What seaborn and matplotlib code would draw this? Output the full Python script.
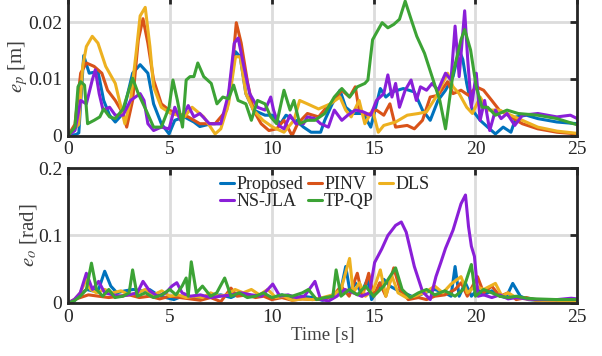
import numpy as np
import pandas as pd
import matplotlib
matplotlib.use("Agg")
import matplotlib.pyplot as plt
import seaborn as sns

# ------------------------------------------------------------------
# position error e_p [m]
t_p_proposed = [0, 0.4, 0.53, 0.77, 1.04, 1.47, 1.75, 2.04, 2.32, 2.7, 3.17, 3.54, 3.92, 4.2, 4.58, 4.96,
                5.24, 5.71, 6.18, 6.47, 7.03, 7.5, 7.88, 8.22, 8.45, 8.73, 9.1, 9.67, 10.05, 10.43, 10.7,
                11.18, 11.56, 11.93, 12.4, 12.6, 12.97, 13.35, 13.63, 14.0, 14.48, 14.86, 15.33, 15.6,
                15.9, 16.46, 17.0, 17.4, 17.78, 18.16, 18.53, 18.9, 19.2, 19.38, 19.57, 19.85, 20.23,
                20.6, 20.98, 21.36, 21.74, 22.0, 22.5, 23.06, 24.0, 25.0]
ep_proposed = [0, 0.0002, 0.0005, 0.0141, 0.011, 0.0113, 0.0062, 0.0036, 0.0024, 0.0039, 0.011, 0.0125,
               0.011, 0.0056, 0.0021, 0.0003, 0.0027, 0.0033, 0.0024, 0.0016, 0.0021, 0.0021, 0.0062,
               0.0148, 0.0139, 0.0074, 0.0045, 0.0036, 0.0036, 0.0021, 0.0036, 0.0027, 0.0015, 0.0006,
               0.0006, 0.0027, 0.0056, 0.008, 0.005, 0.0039, 0.0039, 0.0015, 0.0083, 0.0068, 0.0077,
               0.0083, 0.0077, 0.0045, 0.0027, 0.0062, 0.008, 0.0104, 0.0151, 0.0134, 0.0092, 0.0045,
               0.0027, 0.0015, 0.0003, 0.0015, 0.0006, 0.0033, 0.0036, 0.003, 0.0024, 0.0021]

t_p_pinv = [0, 0.34, 0.62, 0.9, 1.28, 1.66, 1.94, 2.32, 2.7, 2.88, 3.17, 3.45, 3.68, 3.92, 4.2, 4.58,
            4.96, 5.34, 5.9, 6.47, 7.22, 7.79, 8.07, 8.26, 8.5, 8.82, 9.1, 9.48, 9.86, 10.24, 10.6,
            11.0, 11.27, 11.75, 12.3, 12.69, 13.07, 13.44, 13.82, 14.1, 14.29, 14.67, 15.14, 15.5,
            15.8, 16.08, 16.65, 17.0, 17.4, 17.78, 18.16, 18.63, 18.9, 19.29, 19.66, 20.04, 20.4,
            20.8, 21.17, 21.74, 22.3, 23.06, 24.0, 25.0]
ep_pinv = [0, 0.002, 0.011, 0.0128, 0.0122, 0.011, 0.008, 0.0062, 0.0039, 0.0015, 0.0062, 0.0169,
           0.0206, 0.0163, 0.0098, 0.0056, 0.0045, 0.0039, 0.0033, 0.0021, 0.0021, 0.0045, 0.0122,
           0.0199, 0.0163, 0.0092, 0.0045, 0.0021, 0.0009, 0.0012, 0.0027, 0.0, 0.0021, 0.0039,
           0.0033, 0.005, 0.0062, 0.008, 0.0068, 0.0086, 0.0045, 0.0036, 0.0045, 0.0036, 0.0056,
           0.0015, 0.0018, 0.0012, 0.0027, 0.0068, 0.0071, 0.0095, 0.0074, 0.008, 0.0071, 0.0086,
           0.008, 0.0062, 0.0045, 0.0033, 0.0021, 0.0012, 0.0006, 0.0003]

t_p_dls = [0, 0.53, 0.72, 0.9, 1.19, 1.47, 1.85, 2.32, 2.6, 2.79, 3.07, 3.36, 3.54, 3.79, 4.02, 4.2,
           4.58, 5.05, 5.71, 6.09, 6.66, 7.22, 7.5, 7.88, 8.22, 8.45, 8.73, 9.1, 9.57, 10.05, 10.6,
           11.09, 11.37, 11.75, 12.3, 12.88, 13.35, 13.63, 13.9, 14.29, 14.57, 14.95, 15.23, 15.5,
           16.08, 16.65, 17.2, 17.6, 18.06, 18.63, 18.9, 19.2, 19.57, 19.85, 20.23, 20.6, 21.17,
           21.74, 22.3, 23.06, 24.0, 25.0]
ep_dls = [0, 0.002, 0.0122, 0.0157, 0.0175, 0.0163, 0.0122, 0.0092, 0.005, 0.0021, 0.0062, 0.0151,
          0.0211, 0.0226, 0.0157, 0.0086, 0.005, 0.0039, 0.0033, 0.005, 0.0033, 0.0003, 0.0012,
          0.0056, 0.0139, 0.0139, 0.0074, 0.0045, 0.0027, 0.0015, 0.0006, 0.0027, 0.0062, 0.0056,
          0.0047, 0.0056, 0.0068, 0.0045, 0.0033, 0.0062, 0.0021, 0.0045, 0.0006, 0.0018, 0.0024,
          0.0036, 0.0039, 0.0042, 0.0068, 0.011, 0.0086, 0.0074, 0.005, 0.0039, 0.0068, 0.0045,
          0.0045, 0.0036, 0.0027, 0.0015, 0.0008, 0.0004]

t_p_nsjla = [0, 0.34, 0.62, 0.9, 1.19, 1.34, 1.53, 1.72, 2.04, 2.32, 2.7, 3.07, 3.54, 3.73, 3.92, 4.2,
             4.58, 4.96, 5.24, 5.52, 5.9, 6.18, 6.47, 6.94, 7.5, 7.88, 8.16, 8.35, 8.63, 8.92, 9.3,
             9.67, 9.95, 10.09, 10.34, 10.6, 10.9, 11.18, 11.56, 11.75, 12.12, 12.4, 12.78, 13.07,
             13.44, 13.73, 14.1, 14.48, 14.86, 15.14, 15.5, 15.7, 15.9, 16.08, 16.27, 16.55, 16.84,
             17.1, 17.3, 17.6, 17.87, 18.16, 18.53, 18.8, 19.0, 19.2, 19.47, 19.62, 19.8, 20.04,
             20.23, 20.45, 20.7, 20.98, 21.26, 21.55, 21.93, 22.3, 23.06, 24.0, 24.66, 25.0]
ep_nsjla = [0, 0.0009, 0.0062, 0.0056, 0.0098, 0.0116, 0.0074, 0.0045, 0.005, 0.0036, 0.0036, 0.0062,
            0.0074, 0.0062, 0.0021, 0.0009, 0.0015, 0.0012, 0.005, 0.0027, 0.0053, 0.0033, 0.0039,
            0.0021, 0.0021, 0.0074, 0.0163, 0.0172, 0.0122, 0.0074, 0.005, 0.0045, 0.0068, 0.0045,
            0.0018, 0.0012, 0.0036, 0.0021, 0.0021, 0.0033, 0.003, 0.0021, 0.0015, 0.0045, 0.0027,
            0.0036, 0.0045, 0.0042, 0.0036, 0.0062, 0.0074, 0.0107, 0.0068, 0.0092, 0.005, 0.008,
            0.0098, 0.0062, 0.0086, 0.008, 0.0092, 0.008, 0.011, 0.0098, 0.0193, 0.0104, 0.022,
            0.0134, 0.005, 0.011, 0.0027, 0.0062, 0.0009, 0.0045, 0.003, 0.0039, 0.0018, 0.0036,
            0.0039, 0.0033, 0.0036, 0.003]

t_p_tpqp = [0, 0.34, 0.49, 0.62, 0.81, 0.96, 1.28, 1.56, 1.75, 2.04, 2.32, 2.7, 3.17, 3.45, 3.83, 4.2,
            4.58, 4.96, 5.15, 5.37, 5.62, 5.8, 5.99, 6.18, 6.37, 6.66, 7.03, 7.31, 7.6, 7.88, 8.13,
            8.35, 8.73, 9.0, 9.3, 9.67, 9.95, 10.24, 10.6, 10.9, 11.09, 11.37, 11.75, 12.12, 12.6,
            13.07, 13.44, 13.82, 14.2, 14.57, 14.72, 14.95, 15.23, 15.42, 15.7, 15.99, 16.27, 16.55,
            16.84, 17.12, 17.5, 17.87, 18.25, 18.53, 18.9, 19.29, 19.47, 19.76, 20.04, 20.32, 20.6,
            20.98, 21.55, 22.1, 23.06, 24.0, 25.0]
ep_tpqp = [0, 0.0015, 0.0086, 0.0095, 0.0089, 0.0021, 0.0027, 0.0033, 0.0047, 0.0033, 0.003, 0.0047,
           0.0101, 0.0074, 0.0045, 0.0015, 0.0015, 0.005, 0.0098, 0.0062, 0.0015, 0.0098, 0.0104,
           0.0104, 0.0128, 0.0104, 0.0092, 0.0056, 0.0068, 0.0065, 0.0089, 0.0062, 0.0056, 0.0027,
           0.0062, 0.0056, 0.0033, 0.0021, 0.008, 0.0045, 0.0062, 0.0021, 0.0027, 0.0027, 0.0039,
           0.0068, 0.0083, 0.0068, 0.0086, 0.0092, 0.0098, 0.0169, 0.0187, 0.0199, 0.019, 0.0196,
           0.0205, 0.0237, 0.0205, 0.0175, 0.0145, 0.0104, 0.0062, 0.0012, 0.011, 0.0169, 0.0187,
           0.0151, 0.0086, 0.005, 0.005, 0.0036, 0.0045, 0.0039, 0.0036, 0.003, 0.0019]

# ------------------------------------------------------------------
# orientation error e_o [rad]
t_o_proposed = [0, 0.3, 0.6, 0.9, 1.2, 1.5, 1.8, 2.1, 2.4, 2.8, 3.2, 3.6, 4.0, 4.4, 4.8, 5.2, 5.6, 6.0,
                6.5, 7.0, 7.5, 8.0, 8.5, 9.0, 9.5, 10.0, 10.5, 11.0, 11.5, 12.0, 12.5, 13.0, 13.4,
                13.63, 13.85, 14.1, 14.4, 14.7, 14.9, 15.2, 15.5, 15.8, 16.1, 16.5, 17.0, 17.5, 18.0,
                18.5, 18.8, 19.0, 19.2, 19.5, 19.8, 20.1, 20.4, 20.8, 21.2, 21.5, 21.83, 22.2, 22.6,
                23.0, 24.0, 25.0]
eo_proposed = [0, 0.003, 0.012, 0.02, 0.018, 0.02, 0.047, 0.025, 0.015, 0.018, 0.02, 0.018, 0.02,
               0.012, 0.008, 0.005, 0.01, 0.008, 0.006, 0.01, 0.012, 0.008, 0.015, 0.01, 0.012, 0.008,
               0.012, 0.006, 0.01, 0.008, 0.004, 0.012, 0.02, 0.054, 0.015, 0.03, 0.015, 0.035, 0.005,
               0.02, 0.035, 0.025, 0.02, 0.015, 0.008, 0.015, 0.02, 0.015, 0.01, 0.054, 0.01, 0.03,
               0.01, 0.02, 0.012, 0.018, 0.01, 0.008, 0.029, 0.01, 0.005, 0.004, 0.003, 0.002]

t_o_pinv = [0, 0.3, 0.6, 1.0, 1.5, 2.0, 2.5, 3.0, 3.5, 4.0, 4.5, 5.0, 5.5, 6.0, 6.5, 7.0, 7.5, 8.0, 8.3,
            8.8, 9.2, 9.6, 10.0, 10.5, 11.0, 11.5, 12.0, 12.5, 13.0, 13.4, 13.8, 14.2, 14.45, 14.76,
            15.0, 15.3, 15.6, 15.99, 16.3, 16.7, 17.2, 17.6, 18.0, 18.5, 19.0, 19.3, 19.6, 20.1,
            20.4, 20.8, 21.2, 21.6, 22.0, 22.5, 23.0, 24.0, 25.0]
eo_pinv = [0, 0.005, 0.008, 0.012, 0.01, 0.008, 0.01, 0.012, 0.008, 0.01, 0.006, 0.01, 0.008, 0.006,
           0.004, 0.008, 0.002, 0.022, 0.01, 0.012, 0.008, 0.01, 0.005, 0.008, 0.004, 0.006, 0.005,
           0.006, 0.01, 0.025, 0.01, 0.044, 0.01, 0.044, 0.01, 0.03, 0.01, 0.052, 0.02, 0.005, 0.008,
           0.005, 0.01, 0.012, 0.02, 0.03, 0.01, 0.039, 0.015, 0.025, 0.01, 0.015, 0.005, 0.008,
           0.004, 0.003, 0.002]

t_o_dls = [0, 0.3, 0.6, 0.9, 1.1, 1.4, 1.8, 2.2, 2.6, 3.0, 3.4, 3.8, 4.2, 4.6, 5.0, 5.4, 5.8, 6.2, 6.6,
           7.0, 7.4, 7.8, 8.2, 8.6, 9.0, 9.4, 9.8, 10.2, 10.6, 11.0, 11.5, 12.0, 12.5, 13.0, 13.4,
           13.82, 14.0, 14.3, 14.6, 15.0, 15.33, 15.6, 15.9, 16.2, 16.6, 17.0, 17.5, 18.0, 18.4,
           18.8, 19.29, 19.6, 20.0, 20.4, 20.98, 21.3, 21.6, 22.0, 22.5, 23.0, 24.0, 25.0]
eo_dls = [0, 0.004, 0.015, 0.035, 0.02, 0.015, 0.02, 0.015, 0.018, 0.012, 0.015, 0.02, 0.012, 0.018,
          0.01, 0.012, 0.008, 0.01, 0.008, 0.015, 0.01, 0.012, 0.02, 0.015, 0.02, 0.012, 0.02, 0.008,
          0.01, 0.004, 0.006, 0.005, 0.008, 0.012, 0.02, 0.066, 0.015, 0.03, 0.01, 0.02, 0.049, 0.01,
          0.04, 0.015, 0.008, 0.01, 0.015, 0.025, 0.015, 0.028, 0.039, 0.015, 0.025, 0.02, 0.029,
          0.01, 0.015, 0.008, 0.006, 0.004, 0.003, 0.002]

t_o_nsjla = [0, 0.3, 0.6, 0.9, 1.2, 1.5, 1.8, 2.2, 2.6, 3.0, 3.4, 3.68, 4.0, 4.4, 4.8, 5.1, 5.34, 5.6,
             6.0, 6.5, 7.0, 7.5, 8.0, 8.5, 9.0, 9.5, 10.05, 10.4, 10.8, 11.2, 11.6, 12.12, 12.4,
             12.8, 13.2, 13.6, 14.0, 14.4, 14.8, 15.05, 15.4, 15.7, 16.08, 16.36, 16.6, 17.0, 17.4,
             17.78, 18.06, 18.3, 18.53, 18.9, 19.29, 19.51, 19.66, 19.8, 19.95, 20.13, 20.4, 20.8,
             21.2, 21.6, 22.0, 22.5, 23.0, 24.0, 24.7, 25.0]
eo_nsjla = [0, 0.005, 0.015, 0.044, 0.02, 0.032, 0.015, 0.012, 0.01, 0.012, 0.015, 0.032, 0.018,
            0.01, 0.015, 0.025, 0.03, 0.015, 0.01, 0.012, 0.008, 0.01, 0.012, 0.015, 0.012, 0.01,
            0.028, 0.01, 0.012, 0.008, 0.01, 0.032, 0.005, 0.003, 0.01, 0.02, 0.015, 0.01, 0.015,
            0.06, 0.08, 0.1, 0.115, 0.12, 0.105, 0.054, 0.017, 0.005, 0.039, 0.06, 0.081, 0.108,
            0.147, 0.16, 0.113, 0.084, 0.069, 0.01, 0.012, 0.008, 0.012, 0.006, 0.008, 0.006, 0.005,
            0.005, 0.007, 0.006]

t_o_tpqp = [0, 0.3, 0.6, 0.9, 1.15, 1.4, 1.7, 2.0, 2.3, 2.7, 3.0, 3.17, 3.4, 3.8, 4.2, 4.6, 5.0, 5.3,
            5.6, 5.8, 5.9, 6.05, 6.3, 6.6, 7.0, 7.3, 7.69, 8.0, 8.4, 8.8, 9.2, 9.6, 10.0, 10.5, 11.0,
            11.5, 11.8, 12.2, 12.6, 13.0, 13.16, 13.4, 13.8, 14.2, 14.6, 15.0, 15.5, 16.08, 16.4,
            16.8, 17.2, 17.6, 18.0, 18.5, 19.0, 19.4, 19.8, 20.0, 20.4, 20.8, 21.2, 21.6, 22.0,
            22.5, 23.0, 24.0, 25.0]
eo_tpqp = [0, 0.003, 0.01, 0.02, 0.059, 0.02, 0.01, 0.02, 0.008, 0.01, 0.015, 0.049, 0.01, 0.015,
           0.008, 0.012, 0.02, 0.012, 0.025, 0.037, 0.01, 0.061, 0.015, 0.025, 0.01, 0.015, 0.037,
           0.01, 0.015, 0.008, 0.01, 0.015, 0.008, 0.012, 0.01, 0.015, 0.02, 0.005, 0.008, 0.01,
           0.049, 0.01, 0.02, 0.012, 0.025, 0.01, 0.025, 0.052, 0.02, 0.008, 0.015, 0.02, 0.012,
           0.018, 0.01, 0.02, 0.057, 0.01, 0.02, 0.015, 0.01, 0.008, 0.01, 0.007, 0.006, 0.005,
           0.005]

methods = ['Proposed', 'PINV', 'DLS', 'NS-JLA', 'TP-QP']
colors = ['#0072BD', '#D95319', '#EDB120', '#8A1FD8', '#3CA335']

x_ticks = [0, 5, 10, 15, 20, 25]
yp_ticks = [0, 0.01, 0.02]
yp_labels = ['0', '0.01', '0.02']
yo_ticks = [0, 0.1, 0.2]
yo_labels = ['0', '0.1', '0.2']
#------------------------------------------------------------------
def long_form(times, values):
    parts = []
    for m, t, v in zip(methods, times, values):
        parts.append(pd.DataFrame({'time': t, 'err': v, 'method': m}))
    return pd.concat(parts, ignore_index=True)

df_p = long_form([t_p_proposed, t_p_pinv, t_p_dls, t_p_nsjla, t_p_tpqp],
                 [ep_proposed, ep_pinv, ep_dls, ep_nsjla, ep_tpqp])
df_o = long_form([t_o_proposed, t_o_pinv, t_o_dls, t_o_nsjla, t_o_tpqp],
                 [eo_proposed, eo_pinv, eo_dls, eo_nsjla, eo_tpqp])

sns.set_style('white')
plt.rcParams['font.family'] = ['Liberation Serif', 'DejaVu Serif']
plt.rcParams['mathtext.fontset'] = 'stix'
plt.rcParams['font.size'] = 14

palette = dict(zip(methods, colors))

fig = plt.figure(figsize=(6.02, 3.56), dpi=100)
ax1 = fig.add_axes([0.113, 0.619, 0.846, 0.389])
ax2 = fig.add_axes([0.113, 0.149, 0.846, 0.379])

for ax, df in [(ax1, df_p), (ax2, df_o)]:
    sns.lineplot(data=df, x='time', y='err', hue='method', palette=palette, hue_order=methods,
                 estimator=None, sort=False, linewidth=2.2, legend=False, ax=ax)
    ax.set_xlim(0, 25)
    ax.set_xticks(x_ticks)
    ax.grid(True, color='#dcdcdc', linewidth=2)
    ax.set_axisbelow(True)
    for s in ax.spines.values():
        s.set_color('#262626')
        s.set_linewidth(2)
    ax.tick_params(direction='in', length=5, width=2, top=True, right=True,
                   labelsize=14, colors='#262626', pad=4)

ax1.set_ylim(0, 0.0244)
ax1.set_yticks(yp_ticks)
ax1.set_yticklabels(yp_labels)
ax1.set_xlabel('')
ax1.set_ylabel('$e_p$ [m]', color='#404040', labelpad=-1, fontsize=15)

ax2.set_ylim(0, 0.2)
ax2.set_yticks(yo_ticks)
ax2.set_yticklabels(yo_labels)
ax2.set_xlabel('Time [s]', color='#404040', labelpad=1, fontsize=13.5)
ax2.set_ylabel('$e_o$ [rad]', color='#404040', labelpad=-1, fontsize=15)

fig.align_ylabels([ax1, ax2])

# legend, column-wise order to get Proposed/PINV/DLS on first row
lines = {m: plt.Line2D([], [], color=c, linewidth=2.2) for m, c in palette.items()}
order = ['Proposed', 'NS-JLA', 'PINV', 'TP-QP', 'DLS']
ax2.legend([lines[m] for m in order], order, ncol=3, frameon=False, loc='upper left',
           bbox_to_anchor=(0.292, 0.967), borderpad=0.2, borderaxespad=0,
           handlelength=0.75, handletextpad=0.12, columnspacing=0.3, labelspacing=0.0,
           fontsize=13)

plt.savefig('out.png', dpi=100)
